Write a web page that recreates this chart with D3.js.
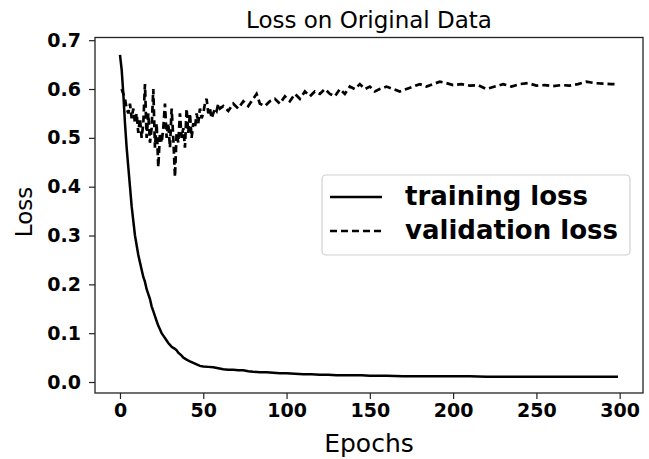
<!DOCTYPE html>
<html>
<head>
<meta charset="utf-8">
<script src="https://cdn.jsdelivr.net/npm/d3@7"></script>
<style>
  body { margin: 0; background: #fff; }
  svg { display: block; font-family: "DejaVu Sans", sans-serif; }
</style>
</head>
<body>
<div id="chart"></div>
<script>
// values
const trainEpochs = [0, 1, 2, 3, 4, 5, 6, 7, 8, 9, 10, 11, 12, 13, 14, 15, 16, 17, 18, 19, 20,
  21, 22, 23, 24, 25, 26, 27, 28, 29, 30, 31, 32, 33, 34, 35, 36, 37, 38, 39, 40,
  42, 44, 46, 48, 50, 53, 56, 59, 62, 65, 68, 71, 74, 77, 80, 84, 88, 92, 96, 100,
  105, 110, 115, 120, 125, 130, 135, 140, 145, 150, 160, 170, 180, 190, 200, 210,
  220, 230, 240, 250, 260, 270, 280, 290, 299];
const trainLoss = [0.67, 0.64, 0.59, 0.53, 0.48, 0.44, 0.40, 0.36, 0.33, 0.30, 0.28,
  0.26, 0.245, 0.23, 0.215, 0.205, 0.19, 0.18, 0.17, 0.155, 0.145,
  0.135, 0.125, 0.115, 0.108, 0.10, 0.095, 0.09, 0.085, 0.08, 0.076,
  0.072, 0.07, 0.068, 0.065, 0.06, 0.057, 0.054, 0.05, 0.048, 0.046,
  0.042, 0.039, 0.036, 0.033, 0.032, 0.031, 0.030, 0.028, 0.026, 0.025,
  0.025, 0.024, 0.024, 0.022, 0.021, 0.020, 0.020, 0.019, 0.018, 0.018,
  0.017, 0.016, 0.016, 0.015, 0.015, 0.014, 0.014, 0.014, 0.014, 0.013,
  0.013, 0.012, 0.012, 0.012, 0.012, 0.012, 0.011, 0.011, 0.011, 0.011,
  0.011, 0.011, 0.011, 0.011, 0.011];

const valEpochs = [1, 2, 3, 4, 5, 6, 7, 8, 9, 10, 11, 12, 13, 14, 15, 16, 17, 18, 19, 20,
  21, 22, 23, 24, 25, 26, 27, 28, 29, 30, 31, 32, 33, 34, 35, 36, 37, 38, 39, 40,
  41, 42, 43, 44, 45, 46, 47, 48, 49, 50, 51, 52, 53, 54, 55, 56, 57, 58, 59, 60,
  62, 65, 68, 71, 74, 77, 80, 82, 84, 87, 90, 93, 96, 99, 102, 105, 108, 111, 114,
  117, 120, 123, 126, 129, 132, 135, 138, 141, 144, 147, 150, 153, 156, 160, 164,
  168, 172, 176, 180, 184, 188, 192, 196, 200, 205, 210, 215, 220, 225, 230, 235,
  240, 245, 250, 255, 260, 265, 270, 275, 280, 285, 290, 295, 299];
const valLoss = [0.60, 0.59, 0.58, 0.56, 0.55, 0.57, 0.54, 0.56, 0.53, 0.55,
  0.51, 0.54, 0.50, 0.53, 0.61, 0.50, 0.55, 0.49, 0.52, 0.60,
  0.48, 0.53, 0.44, 0.51, 0.49, 0.52, 0.57, 0.50, 0.53, 0.48,
  0.56, 0.50, 0.42, 0.51, 0.49, 0.55, 0.50, 0.52, 0.48, 0.56,
  0.51, 0.55, 0.50, 0.53, 0.52, 0.55, 0.53, 0.56, 0.54, 0.55,
  0.57, 0.58, 0.55, 0.56, 0.54, 0.55, 0.56, 0.555, 0.57, 0.56,
  0.565, 0.555, 0.57, 0.56, 0.575, 0.565, 0.58, 0.59, 0.57, 0.565,
  0.575, 0.58, 0.57, 0.585, 0.575, 0.59, 0.58, 0.595, 0.585,
  0.595, 0.59, 0.60, 0.59, 0.585, 0.60, 0.59, 0.605, 0.60, 0.61,
  0.60, 0.605, 0.595, 0.60, 0.605, 0.60,
  0.595, 0.60, 0.605, 0.61, 0.605, 0.61, 0.615, 0.612, 0.608, 0.61,
  0.607, 0.608, 0.60, 0.605, 0.61, 0.605,
  0.61, 0.612, 0.607, 0.608, 0.606, 0.608, 0.607, 0.61, 0.615, 0.612,
  0.611, 0.61, 0.61];

const xTicks = [0, 50, 100, 150, 200, 250, 300];
const yTicks = [0.0, 0.1, 0.2, 0.3, 0.4, 0.5, 0.6, 0.7];

const width = 649, height = 459;
const plot = { left: 95, right: 643, top: 37.5, bottom: 393 };

const svg = d3
  .select("#chart")
  .append("svg")
  .attr("width", width)
  .attr("height", height);

const x = d3.scaleLinear().domain([-15, 314]).range([plot.left, plot.right]);
const y = d3.scaleLinear().domain([-0.0225, 0.7055]).range([plot.bottom, plot.top]);

// axes
const xAxis = svg
  .append("g")
  .attr("transform", `translate(0, ${plot.bottom})`)
  .call(d3.axisBottom(x).tickValues(xTicks).tickSize(6).tickPadding(5).tickSizeOuter(0));
xAxis.select(".domain").remove();
xAxis.selectAll("text")
  .attr("font-size", 19)
  .attr("font-weight", "bold")
  .attr("font-family", "DejaVu Sans")
  .attr("fill", "#000");

const yAxis = svg
  .append("g")
  .attr("transform", `translate(${plot.left}, 0)`)
  .call(d3.axisLeft(y).tickValues(yTicks).tickFormat(d3.format(".1f")).tickSize(6).tickPadding(8).tickSizeOuter(0));
yAxis.select(".domain").remove();
yAxis.selectAll("text")
  .attr("font-size", 19)
  .attr("font-weight", "bold")
  .attr("font-family", "DejaVu Sans")
  .attr("fill", "#000");
svg.selectAll(".tick line").attr("stroke", "#222").attr("stroke-width", 1.2);

// frame
svg
  .append("rect")
  .attr("x", plot.left)
  .attr("y", plot.top)
  .attr("width", plot.right - plot.left)
  .attr("height", plot.bottom - plot.top)
  .attr("fill", "none")
  .attr("stroke", "#222")
  .attr("stroke-width", 1.3);

const line = d3.line().x((d) => x(d[0])).y((d) => y(d[1]));

svg
  .append("path")
  .datum(valEpochs.map((e, i) => [e, valLoss[i]]))
  .attr("d", line)
  .attr("fill", "none")
  .attr("stroke", "#000")
  .attr("stroke-width", 2.7)
  .attr("stroke-dasharray", "7,4");

svg
  .append("path")
  .datum(trainEpochs.map((e, i) => [e, trainLoss[i]]))
  .attr("d", line)
  .attr("fill", "none")
  .attr("stroke", "#000")
  .attr("stroke-width", 2.5);

// title and labels
svg
  .append("text")
  .attr("x", (plot.left + plot.right) / 2)
  .attr("y", 28)
  .attr("text-anchor", "middle")
  .attr("font-size", 23)
  .text("Loss on Original Data");

svg
  .append("text")
  .attr("x", (plot.left + plot.right) / 2)
  .attr("y", 452)
  .attr("text-anchor", "middle")
  .attr("font-size", 25)
  .text("Epochs");

svg
  .append("text")
  .attr("transform", "translate(32, 212) rotate(-90)")
  .attr("text-anchor", "middle")
  .attr("font-size", 23)
  .text("Loss");

// legend
const legend = svg.append("g");
legend
  .append("rect")
  .attr("x", 322)
  .attr("y", 175)
  .attr("width", 308)
  .attr("height", 80)
  .attr("rx", 4)
  .attr("fill", "#fff")
  .attr("fill-opacity", 0.85)
  .attr("stroke", "#d0d0d0")
  .attr("stroke-width", 1.2);

const legendItems = [
  { label: "training loss", dash: null, y: 197 },
  { label: "validation loss", dash: "7,4", y: 231 },
];
legendItems.forEach(function (d) {
  legend
    .append("line")
    .attr("x1", 330)
    .attr("x2", 382)
    .attr("y1", d.y)
    .attr("y2", d.y)
    .attr("stroke", "#000")
    .attr("stroke-width", 2.5)
    .attr("stroke-dasharray", d.dash);
  legend
    .append("text")
    .attr("x", 405)
    .attr("y", d.y + 8)
    .attr("font-size", 26)
    .attr("font-weight", "bold")
    .text(d.label);
});
</script>
</body>
</html>
